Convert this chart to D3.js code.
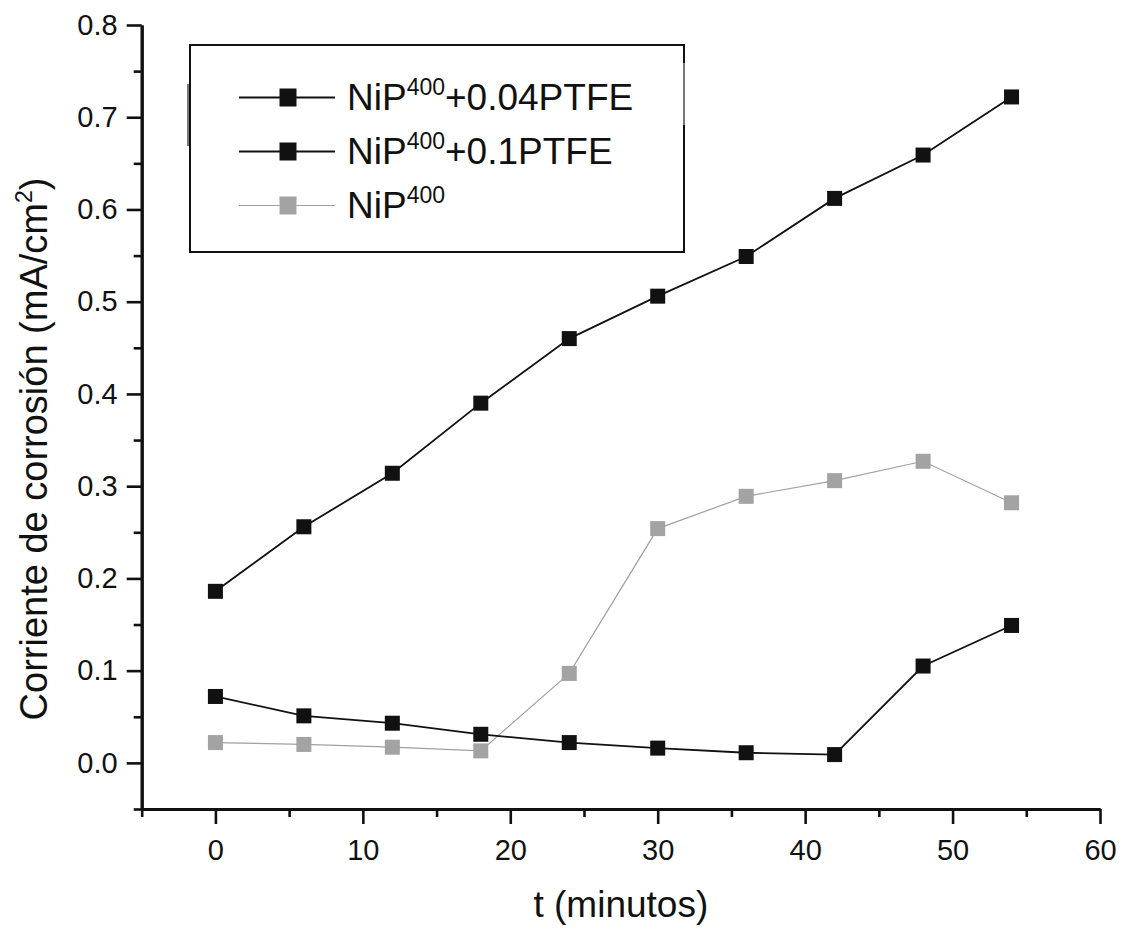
<!DOCTYPE html>
<html>
<head>
<meta charset="utf-8">
<script src="https://cdn.jsdelivr.net/npm/d3@7"></script>
<style>
  html, body { margin: 0; padding: 0; background: #fff; }
  svg { display: block; font-family: "Liberation Sans", Arial, sans-serif; }
</style>
</head>
<body>
<svg id="chart" width="1125" height="929"></svg>
<script>
// Time of immersion (minutes)
const times = [0, 6, 12, 18, 24, 30, 36, 42, 48, 54];

// Corrosion current density (mA/cm2) per coating
const nip_ptfe004 = [0.186, 0.256, 0.314, 0.390, 0.460, 0.506, 0.549, 0.612, 0.659, 0.722];
const nip_ptfe01  = [0.072, 0.051, 0.043, 0.031, 0.022, 0.016, 0.011, 0.009, 0.105, 0.149];
const nip400      = [0.022, 0.020, 0.017, 0.013, 0.097, 0.254, 0.289, 0.306, 0.327, 0.282];

const seriesNames = ["+0.04PTFE", "+0.1PTFE", ""];
const xMajorTicks = [0, 10, 20, 30, 40, 50, 60];
const xMinorTicks = [-5, 5, 15, 25, 35, 45, 55];
const yMajorTicks = [0.0, 0.1, 0.2, 0.3, 0.4, 0.5, 0.6, 0.7, 0.8];
const yMinorTicks = [-0.05, 0.05, 0.15, 0.25, 0.35, 0.45, 0.55, 0.65, 0.75];

const svg = d3.select("#chart");

const plotLeft = 141.7, plotRight = 1100, plotTop = 25, plotBottom = 809;
const x = d3.scaleLinear().domain([-5, 60]).range([plotLeft, plotRight]);
const y = d3.scaleLinear().domain([-0.05, 0.8]).range([plotBottom, plotTop]);

const series = [
  { name: seriesNames[0], values: nip_ptfe004, fill: "#111", line: "#111", lw: 1.8 },
  { name: seriesNames[1], values: nip_ptfe01,  fill: "#111", line: "#111", lw: 1.8 },
  { name: seriesNames[2], values: nip400,      fill: "#a3a3a3", line: "#a0a0a0", lw: 1.2 }
];

// Axes
const axisColor = "#111";
const xMinor = svg.append("g").attr("transform", `translate(0,${plotBottom})`)
  .call(d3.axisBottom(x).tickValues(xMinorTicks).tickSize(8).tickSizeOuter(0).tickFormat(""));
const xMajor = svg.append("g").attr("transform", `translate(0,${plotBottom})`)
  .call(d3.axisBottom(x).tickValues(xMajorTicks).tickSize(15).tickSizeOuter(0).tickPadding(15)
    .tickFormat(d3.format("d")));
const yMinor = svg.append("g").attr("transform", `translate(${plotLeft},0)`)
  .call(d3.axisLeft(y).tickValues(yMinorTicks).tickSize(8).tickSizeOuter(0).tickFormat(""));
const yMajor = svg.append("g").attr("transform", `translate(${plotLeft},0)`)
  .call(d3.axisLeft(y).tickValues(yMajorTicks).tickSize(15).tickSizeOuter(0).tickPadding(9)
    .tickFormat(d3.format(".1f")));

[xMinor, xMajor, yMinor, yMajor].forEach(g => {
  g.selectAll("path.domain").attr("stroke", axisColor).attr("stroke-width", 3);
  g.selectAll(".tick line").attr("stroke", axisColor).attr("stroke-width", 2.6);
  g.selectAll(".tick text").attr("fill", "#111").attr("font-size", 29)
    .attr("font-family", "'Liberation Sans', Arial, sans-serif");
});

// Series lines and square markers (plain NiP400 underneath)
const line = d3.line().x((d, i) => x(times[i])).y(d => y(d));
const drawOrder = [series[2], series[1], series[0]];
drawOrder.forEach(s => {
  svg.append("path").datum(s.values)
    .attr("d", line).attr("fill", "none")
    .attr("stroke", s.line).attr("stroke-width", s.lw);
  const m = 15;
  svg.append("g").selectAll("rect").data(s.values).join("rect")
    .attr("x", (d, i) => x(times[i]) - m / 2)
    .attr("y", d => y(d) - m / 2)
    .attr("width", m).attr("height", m)
    .attr("fill", s.fill);
});

// Legend
const lg = svg.append("g");
lg.append("rect").attr("x", 190).attr("y", 45).attr("width", 494).attr("height", 207)
  .attr("fill", "#fff").attr("stroke", "#111").attr("stroke-width", 2);
lg.append("line").attr("x1", 188).attr("x2", 188).attr("y1", 84).attr("y2", 146)
  .attr("stroke", "#777").attr("stroke-width", 2);
lg.append("line").attr("x1", 684).attr("x2", 684).attr("y1", 63).attr("y2", 125)
  .attr("stroke", "#777").attr("stroke-width", 2);

series.forEach((s, i) => {
  const cy = 97.5 + i * 54;
  const row = lg.append("g");
  row.append("line").attr("x1", 239).attr("x2", 335).attr("y1", cy).attr("y2", cy)
    .attr("stroke", s.line).attr("stroke-width", s.lw);
  row.append("rect").attr("x", 288 - 8.5).attr("y", cy - 9).attr("width", 17).attr("height", 18)
    .attr("fill", s.fill);
  const t = row.append("text").attr("x", 347).attr("y", cy + 12.5)
    .attr("font-size", 37).attr("fill", "#111");
  t.append("tspan").text("NiP");
  t.append("tspan").attr("font-size", 23).attr("dy", -15).text("400");
  if (s.name) t.append("tspan").attr("dy", 15).text(s.name);
});

// Axis titles
svg.append("text").attr("x", (plotLeft + plotRight) / 2).attr("y", 917)
  .attr("text-anchor", "middle").attr("font-size", 37).attr("fill", "#111")
  .text("t (minutos)");

const yt = svg.append("text")
  .attr("transform", `translate(47,449) rotate(-90)`)
  .attr("text-anchor", "middle").attr("font-size", 38).attr("fill", "#111");
yt.append("tspan").text("Corriente de corrosión (mA/cm");
yt.append("tspan").attr("font-size", 23).attr("dy", -15).text("2");
yt.append("tspan").attr("dy", 15).text(")");
</script>
</body>
</html>
